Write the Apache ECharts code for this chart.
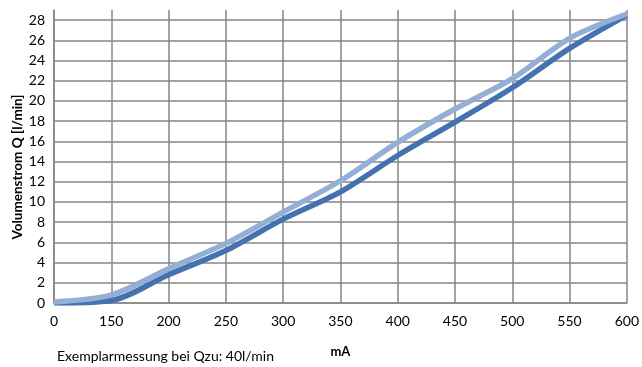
<!DOCTYPE html>
<html>
<head>
<meta charset="utf-8">
<script src="https://cdn.jsdelivr.net/npm/echarts@6/dist/echarts.min.js"></script>
<style>
html,body{margin:0;padding:0;background:#fff;}
#chart{width:642px;height:367px;}
</style>
</head>
<body>
<div id="chart"></div>
<script>
const categories = ['0','150','200','250','300','350','400','450','500','550','600'];
const seriesDark = [0.0, 0.25, 2.8, 5.2, 8.3, 11.0, 14.6, 17.9, 21.3, 25.2, 28.5];
const seriesLight = [0.1, 0.8, 3.4, 5.9, 9.0, 12.1, 15.9, 19.2, 22.2, 26.2, 28.6];
const yTicks = [0,2,4,6,8,10,12,14,16,18,20,22,24,26,28];

const FONT = 'Lato, "Open Sans", sans-serif';
const gridColor = '#868686';
const splitColors = yTicks.map(() => gridColor).concat(['rgba(0,0,0,0)']);

const chart = echarts.init(document.getElementById('chart'));
chart.setOption({
  animation: false,
  backgroundColor: '#ffffff',
  grid: {left: 54, right: 12, top: 10, bottom: 64, containLabel: false},
  xAxis: {
    type: 'category',
    data: categories,
    boundaryGap: false,
    name: 'mA',
    nameLocation: 'middle',
    nameGap: 42,
    nameTextStyle: {fontFamily: FONT, fontSize: 13, fontWeight: 'bold', color: '#000'},
    axisLine: {show: true, lineStyle: {color: gridColor, width: 1.5}},
    axisTick: {show: false},
    axisLabel: {fontFamily: FONT, fontSize: 14, color: '#000', margin: 11},
    splitLine: {show: true, lineStyle: {color: gridColor, width: 1.5}}
  },
  yAxis: {
    type: 'value',
    min: 0,
    max: 29,
    interval: 2,
    axisLine: {show: true, lineStyle: {color: gridColor, width: 1.5}},
    axisTick: {show: false},
    axisLabel: {
      fontFamily: FONT, fontSize: 14, color: '#000', margin: 9,
      formatter: v => (yTicks.indexOf(v) >= 0 ? String(v) : '')
    },
    splitLine: {show: true, lineStyle: {color: splitColors, width: 1.5}}
  },
  graphic: [
    {
      type: 'text',
      x: 18,
      y: 167,
      rotation: Math.PI / 2,
      style: {
        text: 'Volumenstrom Q [l/min]', fontFamily: FONT, fontSize: 13.5, fontWeight: 'bold',
        fill: '#000', align: 'center', verticalAlign: 'middle'
      },
      z: 10
    },
    {
      type: 'text',
      left: 57,
      top: 349,
      style: {text: 'Exemplarmessung bei Qzu: 40l/min', fontFamily: FONT, fontSize: 14, fill: '#000'}
    }
  ],
  series: [
    {
      type: 'line',
      data: seriesDark,
      smooth: 0.3,
      symbol: 'none',
      lineStyle: {color: '#4372AE', width: 5.5},
      z: 2
    },
    {
      type: 'line',
      data: seriesLight,
      smooth: 0.3,
      symbol: 'none',
      lineStyle: {color: '#93AFD6', width: 5.5},
      z: 3
    }
  ]
});
</script>
</body>
</html>
